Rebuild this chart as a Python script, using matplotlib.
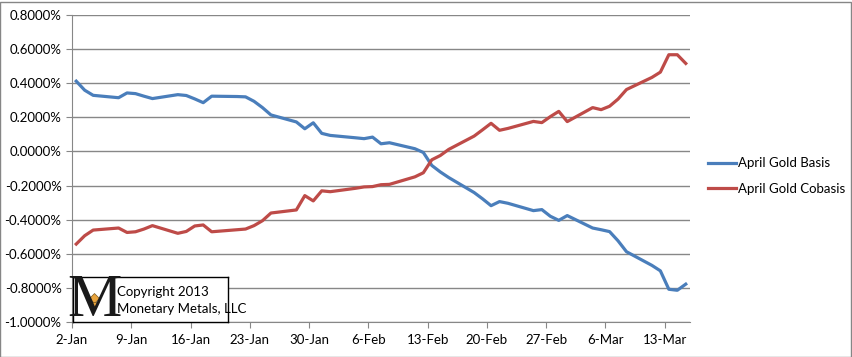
import matplotlib.pyplot as plt
import matplotlib.patches as mpatches
import numpy as np
import datetime as dt

# trading days and values (percent)
dates = ['2013-01-02', '2013-01-03', '2013-01-04', '2013-01-07', '2013-01-08', '2013-01-09',
         '2013-01-10', '2013-01-11', '2013-01-14', '2013-01-15', '2013-01-16', '2013-01-17',
         '2013-01-18', '2013-01-21', '2013-01-22', '2013-01-23', '2013-01-24', '2013-01-25',
         '2013-01-28', '2013-01-29', '2013-01-30', '2013-01-31', '2013-02-01', '2013-02-04',
         '2013-02-05', '2013-02-06', '2013-02-07', '2013-02-08', '2013-02-11', '2013-02-12',
         '2013-02-13', '2013-02-14', '2013-02-15', '2013-02-18', '2013-02-19', '2013-02-20',
         '2013-02-21', '2013-02-22', '2013-02-25', '2013-02-26', '2013-02-27', '2013-02-28',
         '2013-03-01', '2013-03-04', '2013-03-05', '2013-03-06', '2013-03-07', '2013-03-08',
         '2013-03-11', '2013-03-12', '2013-03-13', '2013-03-14', '2013-03-15']

basis = [0.412, 0.359, 0.329, 0.315, 0.343, 0.339,
         0.324, 0.310, 0.333, 0.328, 0.308, 0.286,
         0.324, 0.322, 0.320, 0.294, 0.257, 0.214,
         0.173, 0.133, 0.168, 0.106, 0.094, 0.080,
         0.075, 0.084, 0.045, 0.051, 0.016, -0.006,
         -0.082, -0.120, -0.153, -0.241, -0.278, -0.318,
         -0.294, -0.304, -0.347, -0.341, -0.380, -0.404,
         -0.376, -0.449, -0.459, -0.470, -0.524, -0.588,
         -0.668, -0.700, -0.808, -0.814, -0.778]

cobasis = [-0.543, -0.494, -0.461, -0.449, -0.475, -0.471,
           -0.455, -0.435, -0.480, -0.469, -0.437, -0.431,
           -0.471, -0.459, -0.455, -0.435, -0.406, -0.361,
           -0.343, -0.259, -0.290, -0.231, -0.236, -0.216,
           -0.208, -0.206, -0.195, -0.193, -0.149, -0.125,
           -0.049, -0.024, 0.012, 0.090, 0.127, 0.165,
           0.124, 0.135, 0.176, 0.169, 0.204, 0.235,
           0.175, 0.257, 0.245, 0.265, 0.307, 0.363,
           0.434, 0.465, 0.567, 0.567, 0.516]

tick_labels = ['2-Jan', '9-Jan', '16-Jan', '23-Jan', '30-Jan', '6-Feb',
               '13-Feb', '20-Feb', '27-Feb', '6-Mar', '13-Mar']

start = dt.date(2013, 1, 2)
x = np.array([(dt.date.fromisoformat(d) - start).days for d in dates]) + 0.5

plt.rcParams['font.family'] = ['Lato', 'DejaVu Sans']

fig = plt.figure(figsize=(8.53, 3.57), dpi=100)
ax = fig.add_axes([72 / 853, 1 - 322 / 357, 618 / 853, 307 / 357])

ax.plot(x, basis, color='#4A7EBB', lw=2.3, label='April Gold Basis', solid_joinstyle='round')
ax.plot(x, cobasis, color='#BE4B48', lw=2.3, label='April Gold Cobasis', solid_joinstyle='round')

ax.set_xlim(0, 73)
ax.set_ylim(-1.0, 0.8)
ax.set_xticks(np.arange(0, 71, 7))
ax.set_xticklabels(tick_labels)
yt = np.round(np.arange(-1.0, 0.81, 0.2), 1) + 0.0
ax.set_yticks(yt)
ax.set_yticklabels(['%.4f%%' % (v if abs(v) > 1e-9 else 0.0) for v in yt])
ax.grid(True, axis='y', color='#878787', lw=1)
ax.set_axisbelow(True)
for s in ['top', 'right']:
    ax.spines[s].set_visible(False)
for s in ['left', 'bottom']:
    ax.spines[s].set_color('#878787')
ax.tick_params(axis='both', colors='#878787', labelcolor='black', labelsize=9.5, length=4)
ax.tick_params(axis='x', pad=5)

ax.legend(loc='center left', bbox_to_anchor=(708 / 853, 1 - 176 / 357), bbox_transform=fig.transFigure,
          frameon=False, fontsize=9.5, handlelength=2.1, handletextpad=0.2, labelspacing=1.0,
          borderaxespad=0, borderpad=0)

# copyright box
wm = fig.add_axes([73 / 853, 1 - 322 / 357, 155 / 853, 45 / 357])
wm.set_xticks([])
wm.set_yticks([])
for s in wm.spines.values():
    s.set_color('black')
    s.set_linewidth(1)
wm.set_xlim(0, 155)
wm.set_ylim(0, 45)
wm.text(21, 21, 'M', fontsize=44, family='Liberation Serif', ha='center', va='center', color='#1a1a1a')
wm.plot([21], [24], marker='D', ms=5, color='#E8A33C', mec='#7a5a20', mew=0.5)
wm.plot([21], [17], marker='v', ms=5, color='#E8A33C', mec='#7a5a20', mew=0.5)
wm.text(44, 30, 'Copyright 2013', fontsize=9.5, va='center')
wm.text(44, 13, 'Monetary Metals, LLC', fontsize=9.5, va='center')

fig.patches.append(mpatches.Rectangle((0.5 / 853, 0.5 / 357), 851 / 853, 355 / 357,
                                      transform=fig.transFigure, fill=False, ec='#868686', lw=1))

fig.savefig('out.png', dpi=100)
